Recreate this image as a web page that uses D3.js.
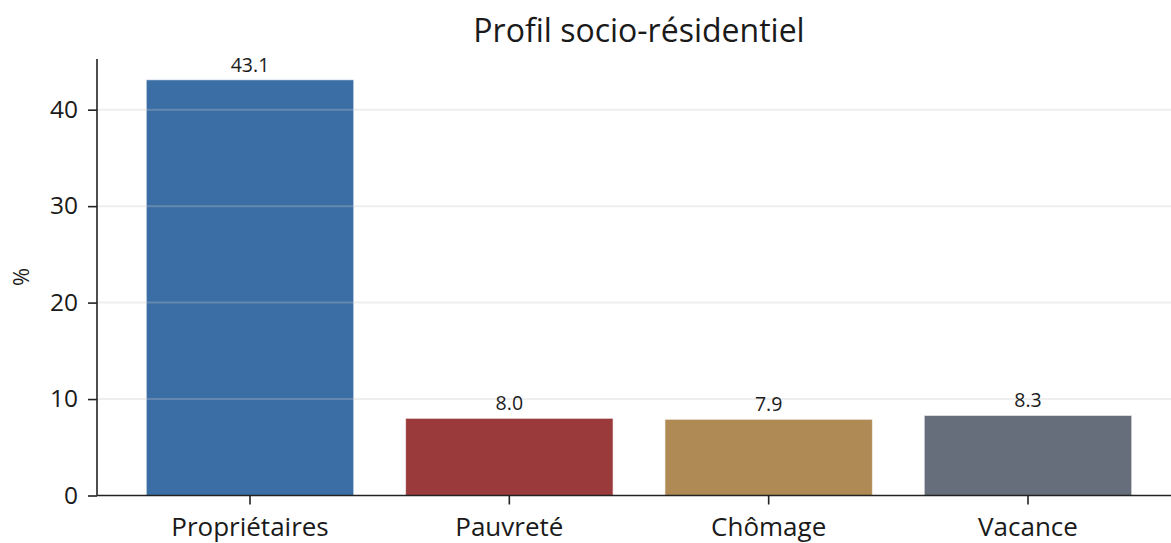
<!DOCTYPE html>
<html>
<head>
<meta charset="utf-8">
<script src="https://cdn.jsdelivr.net/npm/d3@7"></script>
<style>
  html, body { margin: 0; padding: 0; background: #fff; }
  svg { display: block; }
  text { font-family: "Open Sans", "Noto Sans", sans-serif; fill: #1a1a1a; }
</style>
</head>
<body>
<svg id="chart" width="1171" height="543"></svg>
<script>
const title = "Profil socio-résidentiel";
const yLabel = "%";
const categories = ["Propriétaires", "Pauvreté", "Chômage", "Vacance"];
const values = [43.1, 8.0, 7.9, 8.3];
const colors = ["#3a6ea5", "#9b3a3a", "#b08a55", "#666e7c"];
const yTicks = [0, 10, 20, 30, 40];

(function () {
const svg = d3.select("#chart");
const mLeft = 97, mRight = 1181, mTop = 59, mBottom = 495.5;
const font = "'Open Sans', sans-serif";

const x = d3.scaleBand().domain(categories).range([mLeft, mRight])
  .paddingInner(0.2).paddingOuter(0.19);
const y = d3.scaleLinear().domain([0, d3.max(values) * 1.05]).range([mBottom, mTop]);

// bars
svg.append("g").selectAll("rect").data(values).join("rect")
  .attr("x", (d, i) => x(categories[i]))
  .attr("width", x.bandwidth())
  .attr("y", d => y(d))
  .attr("height", d => y(0) - y(d))
  .attr("fill", (d, i) => colors[i])
  .attr("stroke", "rgba(255,255,255,0.6)")
  .attr("stroke-width", 1);

// grid (on top, translucent)
svg.append("g").selectAll("line").data(yTicks.filter(t => t > 0)).join("line")
  .attr("x1", mLeft).attr("x2", mRight)
  .attr("y1", d => y(d)).attr("y2", d => y(d))
  .attr("stroke", "#c8c8c8").attr("stroke-opacity", 0.3).attr("stroke-width", 2);

// value labels
svg.append("g").selectAll("text").data(values).join("text")
  .attr("x", (d, i) => x(categories[i]) + x.bandwidth() / 2)
  .attr("y", d => y(d) - 8)
  .attr("text-anchor", "middle")
  .attr("font-size", 19.5)
  .text(d => d.toFixed(1));

// y axis
const yAxis = svg.append("g").attr("transform", `translate(${mLeft},0)`)
  .call(d3.axisLeft(y).tickValues(yTicks).tickSize(9).tickPadding(10).tickFormat(d3.format("d")));
yAxis.select(".domain").attr("d", `M0,${mTop}V${mBottom}`);
yAxis.selectAll("path, line").attr("stroke", "#222").attr("stroke-width", 1.6);
yAxis.selectAll("text").attr("font-size", 24.5).attr("font-family", font).attr("fill", "#1a1a1a");

// x axis
const xAxis = svg.append("g").attr("transform", `translate(0,${mBottom})`)
  .call(d3.axisBottom(x).tickSize(9).tickPadding(13));
xAxis.select(".domain").attr("d", `M${mLeft},0H${mRight}`);
xAxis.selectAll("path, line").attr("stroke", "#222").attr("stroke-width", 1.6);
xAxis.selectAll("text").attr("font-size", 26).attr("font-family", font).attr("fill", "#1a1a1a");

// y label
svg.append("text")
  .attr("transform", `translate(29,277) rotate(-90)`)
  .attr("text-anchor", "middle")
  .attr("font-size", 22)
  .text(yLabel);

// title
svg.append("text")
  .attr("x", (mLeft + mRight) / 2).attr("y", 42)
  .attr("text-anchor", "middle")
  .attr("font-size", 32)
  .text(title);
})();
</script>
</body>
</html>
